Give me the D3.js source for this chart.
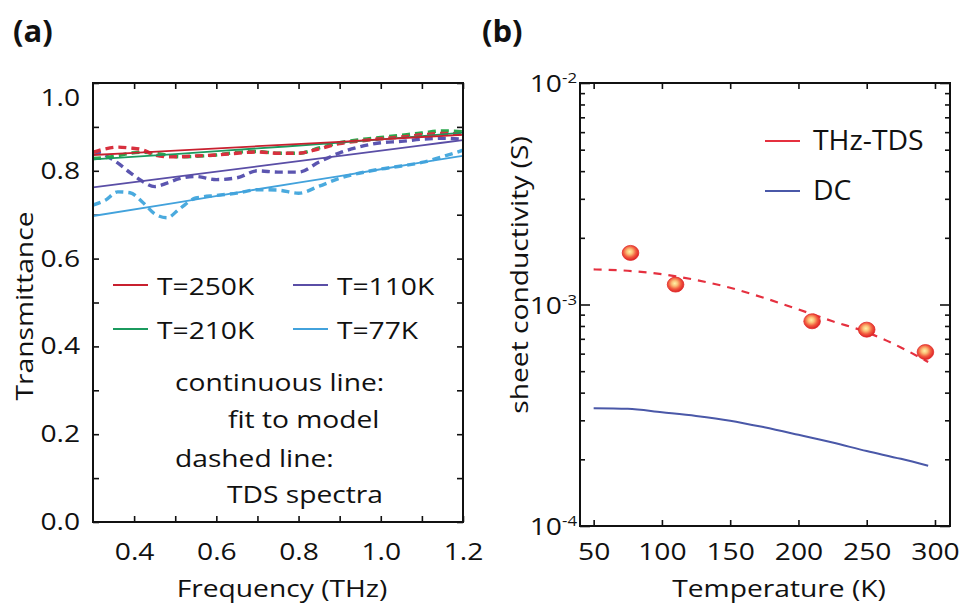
<!DOCTYPE html>
<html><head><meta charset="utf-8">
<script src="https://cdn.jsdelivr.net/npm/d3@7"></script>
<style>
body{margin:0;background:#fff}
text{font-family:"Open Sans",sans-serif;fill:#111}
</style>
</head><body>
<svg id="c" width="963" height="604"></svg>
<script>
// ---------- Panel (a) data ----------
const freqTicks = [0.4, 0.6, 0.8, 1.0, 1.2];
const transTicks = [0.0, 0.2, 0.4, 0.6, 0.8, 1.0];
const legendA = ["T=250K", "T=210K", "T=110K", "T=77K"];

const fitFreq = [0.30, 0.50, 0.70, 0.90, 1.10, 1.20];
const fit250 = [0.836, 0.846, 0.856, 0.866, 0.877, 0.882];
const fit210 = [0.826, 0.838, 0.851, 0.864, 0.879, 0.887];
const fit110 = [0.762, 0.786, 0.810, 0.834, 0.858, 0.870];
const fit77  = [0.697, 0.727, 0.758, 0.788, 0.819, 0.834];

const tdsFreq = [0.30,0.33,0.36,0.39,0.42,0.45,0.48,0.51,0.55,0.60,0.65,0.70,0.75,0.80,0.85,0.90,0.95,1.00,1.05,1.10,1.15,1.20];
const tds250 = [0.842,0.850,0.854,0.852,0.848,0.836,0.832,0.832,0.834,0.836,0.840,0.843,0.840,0.840,0.850,0.862,0.868,0.873,0.877,0.882,0.885,0.884];
const tds210 = [0.828,0.830,0.834,0.840,0.842,0.840,0.836,0.832,0.833,0.836,0.842,0.844,0.840,0.840,0.852,0.864,0.871,0.876,0.881,0.886,0.891,0.889];
const tds110 = [0.844,0.835,0.818,0.796,0.776,0.764,0.772,0.782,0.787,0.780,0.784,0.800,0.797,0.797,0.820,0.841,0.855,0.864,0.867,0.872,0.874,0.872];
const tds77  = [0.722,0.733,0.752,0.750,0.729,0.702,0.693,0.713,0.738,0.744,0.749,0.757,0.756,0.749,0.765,0.783,0.795,0.804,0.811,0.819,0.832,0.847];

// ---------- Panel (b) data ----------
const tempTicks = [50, 100, 150, 200, 250, 300];
const condMajor = [1e-4, 1e-3, 1e-2];
const condExp = ["-4", "-3", "-2"];
const tempFit = [50, 75, 100, 125, 150, 175, 200, 225, 250, 275, 295];
const thzFit = [1.44e-3, 1.42e-3, 1.37e-3, 1.29e-3, 1.19e-3, 1.07e-3, 9.5e-4, 8.4e-4, 7.5e-4, 6.4e-4, 5.5e-4];
const dcFit  = [3.40e-4, 3.38e-4, 3.26e-4, 3.14e-4, 2.99e-4, 2.79e-4, 2.58e-4, 2.38e-4, 2.18e-4, 2.01e-4, 1.87e-4];
const tempPts = [77, 110, 210, 250, 293];
const thzPts = [1.71e-3, 1.23e-3, 8.4e-4, 7.7e-4, 6.1e-4];
const legendB = ["THz-TDS", "DC"];

// ---------- helpers ----------
const S = 1.2;       // horizontal text stretch of the reference typography
const FS = 23.5;
const svg = d3.select("#c");
function stretch(sel, s) {
  sel.each(function () {
    const t = d3.select(this);
    const x = +(t.attr("x") || 0);
    t.attr("transform", `translate(${x},0) scale(${s},1) translate(${-x},0)`);
  });
}
function addText(x, y, str, opts = {}) {
  const t = svg.append("text").attr("x", x).attr("y", y).text(str)
    .attr("font-size", opts.size || FS)
    .attr("text-anchor", opts.anchor || "start");
  if (opts.weight) t.attr("font-weight", opts.weight);
  stretch(t, opts.s || S);
  return t;
}

// ================= Panel (a) =================
const xA = d3.scaleLinear().domain([0.3, 1.2]).range([93, 463]);
const yA = d3.scaleLinear().domain([0, 1]).range([522, 83]);
const gA = svg.append("g");

const fTickAll = d3.range(4, 13).map(i => i / 10);
const tTickAll = d3.range(0, 11).map(i => i / 10);
const isMajF = d => freqTicks.some(v => Math.abs(v - d) < 1e-6);
const isMajT = d => transTicks.some(v => Math.abs(v - d) < 1e-6);

const axBA = gA.append("g").attr("transform", "translate(0,522)")
  .call(d3.axisBottom(xA).tickValues(fTickAll).tickSize(-6).tickPadding(21)
    .tickFormat(d => isMajF(d) ? d3.format(".1f")(d) : ""));
gA.append("g").attr("transform", "translate(0,83)")
  .call(d3.axisTop(xA).tickValues(fTickAll).tickSize(-6).tickFormat(""));
const axLA = gA.append("g").attr("transform", "translate(93,0)")
  .call(d3.axisLeft(yA).tickValues(tTickAll).tickSize(-6).tickPadding(13)
    .tickFormat(d => isMajT(d) ? d3.format(".1f")(d) : ""));
gA.append("g").attr("transform", "translate(463,0)")
  .call(d3.axisRight(yA).tickValues(tTickAll).tickSize(-6).tickFormat(""));
gA.selectAll(".domain").remove();
gA.selectAll(".tick line").attr("stroke", "#111").attr("stroke-width", 1.6);
gA.selectAll(".tick text").attr("font-size", FS).attr("font-family", "Open Sans").attr("fill", "#111");
axLA.selectAll(".tick text").filter(d => Math.abs(d - 1) < 1e-6).attr("dy", "0.95em");
stretch(axBA.selectAll(".tick text"), S);
stretch(axLA.selectAll(".tick text"), S);

const lineA = d3.line().x(d => xA(d[0])).y(d => yA(d[1])).curve(d3.curveMonotoneX);
const colsFit = ["#c8202f", "#1b9a5e", "#5a4ea6", "#42a2dc"];
const colsTds = ["#d8303e", "#2aa84c", "#5b55b0", "#4aaade"];
const fits = [fit250, fit210, fit110, fit77];
const tdss = [tds250, tds210, tds110, tds77];
const clipA = svg.append("clipPath").attr("id", "clipA").append("rect")
  .attr("x", 93).attr("y", 83).attr("width", 370).attr("height", 439);
const plotA = gA.append("g").attr("clip-path", "url(#clipA)");
[3, 2, 1, 0].forEach(i => {
  plotA.append("path").datum(tdsFreq.map((f, j) => [f, tdss[i][j]]))
    .attr("d", lineA).attr("fill", "none").attr("stroke", colsTds[i])
    .attr("stroke-width", 3.4).attr("stroke-dasharray", "8,5");
});
[3, 2, 1, 0].forEach(i => {
  plotA.append("path").datum(fitFreq.map((f, j) => [f, fits[i][j]]))
    .attr("d", lineA).attr("fill", "none").attr("stroke", colsFit[i])
    .attr("stroke-width", 1.8);
});
gA.append("rect").attr("x", 93).attr("y", 83).attr("width", 370).attr("height", 439)
  .attr("fill", "none").attr("stroke", "#111").attr("stroke-width", 2);

// legend (a)
const legPos = [[113, 285], [113, 329], [293, 285], [293, 329]];
legendA.forEach((lab, i) => {
  const [lx, ly] = legPos[i];
  svg.append("line").attr("x1", lx).attr("x2", lx + 35).attr("y1", ly).attr("y2", ly)
    .attr("stroke", colsFit[i]).attr("stroke-width", 2);
  addText(lx + 44, ly + 10, lab);
});
addText(175, 391, "continuous line:");
addText(228, 428, "fit to model");
addText(175, 467, "dashed line:");
addText(227, 503, "TDS spectra");

// titles (a)
addText(282, 597, "Frequency (THz)", { anchor: "middle" });
svg.append("text").attr("transform", `translate(33,306) rotate(-90) scale(${S},1)`)
  .attr("text-anchor", "middle").attr("font-size", FS).text("Transmittance");
addText(13, 42, "(a)", { size: 31, weight: "bold", s: 1.0 });

// ================= Panel (b) =================
const xB = d3.scaleLinear().domain([40, 311]).range([580, 950]);
const yB = d3.scaleLog().domain([1e-4, 1e-2]).range([526, 83]);
const gB = svg.append("g");
const minorB = [];
[1e-4, 1e-3].forEach(b => { for (let k = 2; k <= 9; k++) minorB.push(b * k); });

const axBB = gB.append("g").attr("transform", "translate(0,526)")
  .call(d3.axisBottom(xB).tickValues(tempTicks).tickSize(-6).tickPadding(17).tickFormat(d3.format("d")));
gB.append("g").attr("transform", "translate(0,83)")
  .call(d3.axisTop(xB).tickValues(tempTicks).tickSize(-6).tickFormat(""));
const axLB = gB.append("g").attr("transform", "translate(580,0)")
  .call(d3.axisLeft(yB).tickValues(condMajor).tickSize(-10).tickFormat(""));
gB.append("g").attr("transform", "translate(580,0)")
  .call(d3.axisLeft(yB).tickValues(minorB).tickSize(-5).tickFormat(""));
gB.append("g").attr("transform", "translate(950,0)")
  .call(d3.axisRight(yB).tickValues(condMajor).tickSize(-10).tickFormat(""));
gB.append("g").attr("transform", "translate(950,0)")
  .call(d3.axisRight(yB).tickValues(minorB).tickSize(-5).tickFormat(""));
gB.selectAll(".domain").remove();
gB.selectAll(".tick line").attr("stroke", "#111").attr("stroke-width", 1.6);
axBB.selectAll(".tick text").attr("font-size", FS).attr("font-family", "Open Sans").attr("fill", "#111");
stretch(axBB.selectAll(".tick text"), S);

axLB.selectAll(".tick").each(function (d, i) {
  const t = d3.select(this).append("text").attr("x", -3).attr("y", 8.5)
    .attr("text-anchor", "end").attr("font-size", FS).attr("fill", "#111");
  t.append("tspan").text("10");
  t.append("tspan").attr("font-size", 14).attr("dy", -9).text(condExp[i]);
  stretch(t, S);
});

// gradient for markers
const defs = svg.append("defs");
const grad = defs.append("radialGradient").attr("id", "ball").attr("cx", "45%").attr("cy", "42%").attr("r", "58%");
[["0%", "#fff2a8"], ["30%", "#fbc178"], ["65%", "#f25a3e"], ["100%", "#dc2226"]]
  .forEach(([o, c]) => grad.append("stop").attr("offset", o).attr("stop-color", c));

const lineB = d3.line().x(d => xB(d[0])).y(d => yB(d[1])).curve(d3.curveMonotoneX);
gB.append("path").datum(tempFit.map((t, j) => [t, dcFit[j]])).attr("d", lineB)
  .attr("fill", "none").attr("stroke", "#4a58a8").attr("stroke-width", 2);
gB.append("path").datum(tempFit.map((t, j) => [t, thzFit[j]])).attr("d", lineB)
  .attr("fill", "none").attr("stroke", "#e5303f").attr("stroke-width", 2.2).attr("stroke-dasharray", "8,7");
gB.selectAll("ellipse.pt").data(tempPts.map((t, j) => [t, thzPts[j]])).enter()
  .append("ellipse").attr("class", "pt")
  .attr("cx", d => xB(d[0])).attr("cy", d => yB(d[1])).attr("rx", 8.3).attr("ry", 7.5)
  .attr("fill", "url(#ball)").attr("stroke", "#e02a2a").attr("stroke-width", 0.8);

gB.append("rect").attr("x", 580).attr("y", 83).attr("width", 370).attr("height", 443)
  .attr("fill", "none").attr("stroke", "#111").attr("stroke-width", 2);

// legend (b)
const legColsB = ["#e5303f", "#4a58a8"];
[[141, 150], [191, 200]].forEach(([ly, by], i) => {
  svg.append("line").attr("x1", 765).attr("x2", 800).attr("y1", ly).attr("y2", ly)
    .attr("stroke", legColsB[i]).attr("stroke-width", 2);
  addText(813, by, legendB[i], { size: 27, s: 1.05 });
});

addText(779, 597, "Temperature (K)", { anchor: "middle" });
svg.append("text").attr("transform", `translate(528,275) rotate(-90) scale(${S},1)`)
  .attr("text-anchor", "middle").attr("font-size", FS).text("sheet conductivity (S)");
addText(482, 42, "(b)", { size: 31, weight: "bold", s: 1.0 });
</script>
</body></html>
